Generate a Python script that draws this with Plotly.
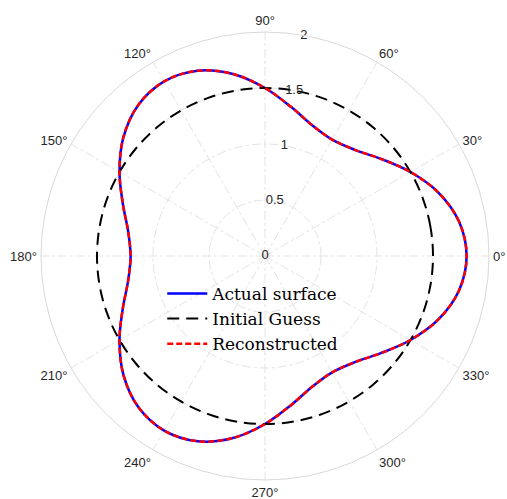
import plotly.graph_objects as go

# Angles in degrees (every 10 deg, closed)
theta_deg = list(range(0, 361, 10))

# Actual surface radius
r_actual = [1.80, 1.76, 1.65, 1.50, 1.35, 1.24, 1.20, 1.24, 1.35, 1.50, 1.65, 1.76,
            1.80, 1.76, 1.65, 1.50, 1.35, 1.24, 1.20, 1.24, 1.35, 1.50, 1.65, 1.76,
            1.80, 1.76, 1.65, 1.50, 1.35, 1.24, 1.20, 1.24, 1.35, 1.50, 1.65, 1.76,
            1.80]

# Initial guess: circle
r_guess = [1.50] * 37

# Reconstructed surface
r_recon = [1.80, 1.76, 1.65, 1.50, 1.35, 1.24, 1.20, 1.24, 1.35, 1.50, 1.65, 1.76,
           1.80, 1.76, 1.65, 1.50, 1.35, 1.24, 1.20, 1.24, 1.35, 1.50, 1.65, 1.76,
           1.80, 1.76, 1.65, 1.50, 1.35, 1.24, 1.20, 1.24, 1.35, 1.50, 1.65, 1.76,
           1.80]

radial_ticks = [0, 0.5, 1, 1.5, 2]
radial_tick_labels = ["0", "0.5", "1", "1.5", "2"]
radial_label_angle = 80

fig = go.Figure()
fig.add_trace(go.Scatterpolar(r=r_actual, theta=theta_deg, mode="lines",
                              name="Actual surface",
                              line=dict(color="#0000ff", width=2.5, shape="spline")))
fig.add_trace(go.Scatterpolar(r=r_guess, theta=theta_deg, mode="lines",
                              name="Initial Guess",
                              line=dict(color="black", width=2, dash="12px,7px", shape="spline")))
fig.add_trace(go.Scatterpolar(r=r_recon, theta=theta_deg, mode="lines",
                              name="Reconstructed",
                              line=dict(color="#ff0000", width=2.5, dash="6px,3px", shape="spline")))
fig.add_trace(go.Scatterpolar(r=radial_ticks, theta=[radial_label_angle] * len(radial_ticks),
                              mode="text", text=radial_tick_labels, showlegend=False,
                              textfont=dict(family="Liberation Sans, Arial, sans-serif",
                                            size=13, color="#262626"),
                              cliponaxis=False, hoverinfo="skip"))

fig.update_layout(
    width=507, height=499,
    margin=dict(l=0, r=0, t=0, b=0, autoexpand=False),
    paper_bgcolor="white",
    showlegend=True,
    legend=dict(x=0.32, y=0.447, xanchor="left", yanchor="top",
                bgcolor="rgba(0,0,0,0)", borderwidth=0,
                font=dict(family="DejaVu Serif, serif", size=17, color="black"),
                tracegroupgap=0, itemwidth=40),
    polar=dict(
        domain=dict(x=[41 / 507, 489 / 507], y=[19 / 499, 467 / 499]),
        bgcolor="white",
        radialaxis=dict(range=[0, 2], tickvals=[0.5, 1, 1.5], showticklabels=False,
                        ticks="", showline=False, gridcolor="#e3e3e3", griddash="dashdot",
                        gridwidth=1, angle=radial_label_angle),
        angularaxis=dict(rotation=0, direction="counterclockwise", dtick=30,
                         ticksuffix="°", ticks="outside", ticklen=1,
                         tickcolor="rgba(0,0,0,0)", showline=True, linecolor="#d9d9d9",
                         linewidth=1, gridcolor="#e3e3e3", griddash="dashdot", gridwidth=1,
                         tickfont=dict(family="Liberation Sans, Arial, sans-serif",
                                       size=13, color="#262626")),
    ),
)

fig.write_html("out.html", config={"displayModeBar": False},
               post_script="document.body.style.margin='0px';")
